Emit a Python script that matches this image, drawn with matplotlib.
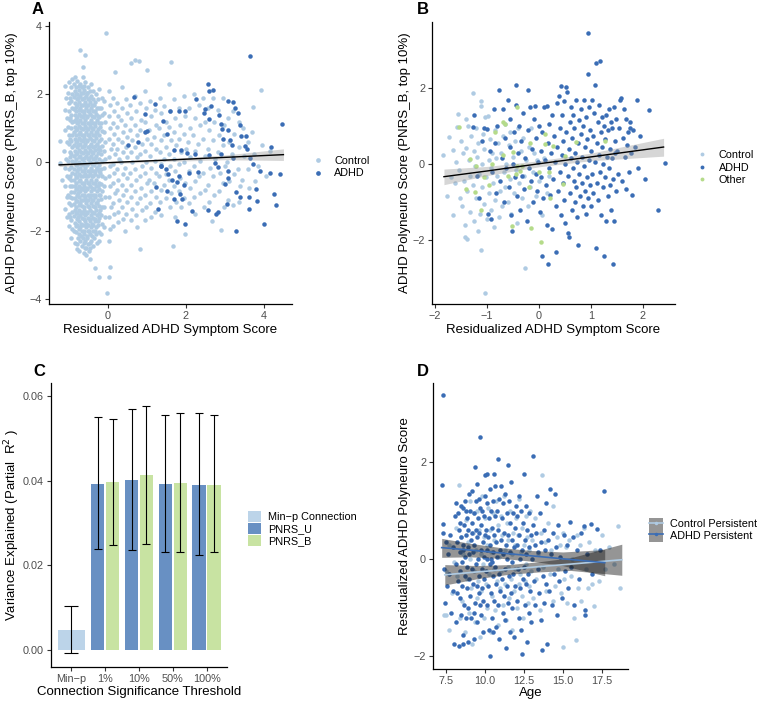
import numpy as np
import matplotlib
matplotlib.use("Agg")
import matplotlib.pyplot as plt
from matplotlib.lines import Line2D
from matplotlib.patches import Patch

plt.rcParams['font.family'] = ['Liberation Sans', 'DejaVu Sans']

# colours
c_light = '#AFCBE3'
c_dark = '#3A6DB5'
c_green = '#B5DB8A'
tick_col = '#4D4D4D'

# ---------------- panel A data ----------------
a_ctrl = [
    # dense core
    (-1.10, 2.25), (-1.07, 1.9), (-1.11, 1.55), (-1.06, 1.3), (-1.09, 0.95), (-1.05, 0.6), (-1.12, 0.35),
    (-1.07, 0.1), (-1.1, -0.15), (-1.05, -0.4), (-1.09, -0.7), (-1.06, -1.0), (-1.11, -1.35), (-1.04, -1.6),
    (-1.0, 2.35), (-1.02, 2.05), (-0.99, 1.75), (-1.01, 1.5), (-0.98, 1.25), (-1.02, 1.05), (-0.99, 0.8),
    (-1.01, 0.55), (-0.98, 0.3), (-1.02, 0.05), (-0.99, -0.2), (-1.01, -0.45), (-0.98, -0.7), (-1.02, -0.95),
    (-1.0, -1.2), (-0.99, -1.5), (-1.01, -1.85),
    (-0.93, 2.45), (-0.95, 2.2), (-0.92, 2.0), (-0.94, 1.8), (-0.91, 1.6), (-0.95, 1.4), (-0.92, 1.2),
    (-0.94, 1.0), (-0.91, 0.8), (-0.95, 0.62), (-0.92, 0.45), (-0.94, 0.25), (-0.91, 0.05), (-0.95, -0.12),
    (-0.92, -0.3), (-0.94, -0.5), (-0.91, -0.68), (-0.95, -0.88), (-0.92, -1.05), (-0.94, -1.25),
    (-0.91, -1.45), (-0.95, -1.7), (-0.92, -1.95), (-0.94, -2.2),
    (-0.85, 2.5), (-0.88, 2.3), (-0.85, 2.1), (-0.88, 1.92), (-0.85, 1.75), (-0.88, 1.57), (-0.85, 1.4),
    (-0.88, 1.22), (-0.85, 1.05), (-0.88, 0.88), (-0.85, 0.7), (-0.88, 0.52), (-0.85, 0.35), (-0.88, 0.18),
    (-0.85, 0.0), (-0.88, -0.18), (-0.85, -0.35), (-0.88, -0.52), (-0.85, -0.7), (-0.88, -0.88),
    (-0.85, -1.05), (-0.88, -1.22), (-0.85, -1.4), (-0.88, -1.58), (-0.85, -1.78), (-0.88, -2.0), (-0.85, -2.35),
    (-0.79, 2.4), (-0.81, 2.2), (-0.78, 2.02), (-0.8, 1.85), (-0.78, 1.68), (-0.81, 1.5), (-0.79, 1.33),
    (-0.8, 1.15), (-0.78, 0.98), (-0.81, 0.8), (-0.79, 0.62), (-0.8, 0.45), (-0.78, 0.28), (-0.81, 0.1),
    (-0.79, -0.08), (-0.8, -0.25), (-0.78, -0.42), (-0.81, -0.6), (-0.79, -0.78), (-0.8, -0.95),
    (-0.78, -1.12), (-0.81, -1.3), (-0.79, -1.48), (-0.8, -1.65), (-0.78, -1.83), (-0.81, -2.05),
    (-0.79, -2.4), (-0.8, -2.55),
    (-0.72, 2.3), (-0.74, 2.12), (-0.71, 1.95), (-0.73, 1.78), (-0.71, 1.6), (-0.74, 1.42), (-0.72, 1.25),
    (-0.73, 1.08), (-0.71, 0.9), (-0.74, 0.72), (-0.72, 0.55), (-0.73, 0.38), (-0.71, 0.2), (-0.74, 0.02),
    (-0.72, -0.15), (-0.73, -0.33), (-0.71, -0.5), (-0.74, -0.68), (-0.72, -0.85), (-0.73, -1.02),
    (-0.71, -1.2), (-0.74, -1.38), (-0.72, -1.55), (-0.73, -1.72), (-0.71, -1.9), (-0.74, -2.1),
    (-0.72, -2.3), (-0.73, -2.6),
    (-0.65, 2.5), (-0.67, 2.2), (-0.64, 2.03), (-0.66, 1.86), (-0.64, 1.69), (-0.67, 1.51), (-0.65, 1.34),
    (-0.66, 1.16), (-0.64, 0.99), (-0.67, 0.81), (-0.65, 0.63), (-0.66, 0.46), (-0.64, 0.29), (-0.67, 0.11),
    (-0.65, -0.07), (-0.66, -0.24), (-0.64, -0.41), (-0.67, -0.59), (-0.65, -0.77), (-0.66, -0.94),
    (-0.64, -1.11), (-0.67, -1.29), (-0.65, -1.47), (-0.66, -1.64), (-0.64, -1.82), (-0.67, -2.0),
    (-0.65, -2.2), (-0.66, -2.45), (-0.62, -2.65),
    (-0.58, 2.35), (-0.6, 2.13), (-0.57, 1.95), (-0.59, 1.78), (-0.57, 1.6), (-0.6, 1.42), (-0.58, 1.25),
    (-0.59, 1.08), (-0.57, 0.9), (-0.6, 0.72), (-0.58, 0.55), (-0.59, 0.38), (-0.57, 0.2), (-0.6, 0.02),
    (-0.58, -0.15), (-0.59, -0.33), (-0.57, -0.5), (-0.6, -0.68), (-0.58, -0.85), (-0.59, -1.02),
    (-0.57, -1.2), (-0.6, -1.38), (-0.58, -1.55), (-0.59, -1.72), (-0.57, -1.9), (-0.6, -2.1),
    (-0.58, -2.3), (-0.59, -2.5), (-0.56, -2.7),
    (-0.51, 2.2), (-0.53, 2.03), (-0.5, 1.86), (-0.52, 1.69), (-0.5, 1.51), (-0.53, 1.34), (-0.51, 1.16),
    (-0.52, 0.99), (-0.5, 0.81), (-0.53, 0.63), (-0.51, 0.46), (-0.52, 0.29), (-0.5, 0.11), (-0.53, -0.07),
    (-0.51, -0.24), (-0.52, -0.41), (-0.5, -0.59), (-0.53, -0.77), (-0.51, -0.94), (-0.52, -1.11),
    (-0.5, -1.29), (-0.53, -1.47), (-0.51, -1.64), (-0.52, -1.82), (-0.5, -2.0), (-0.53, -2.2),
    (-0.51, -2.4), (-0.49, -2.6),
    (-0.44, 2.3), (-0.46, 2.1), (-0.43, 1.95), (-0.45, 1.78), (-0.43, 1.6), (-0.46, 1.42), (-0.44, 1.25),
    (-0.45, 1.08), (-0.43, 0.9), (-0.46, 0.72), (-0.44, 0.55), (-0.45, 0.38), (-0.43, 0.2), (-0.46, 0.02),
    (-0.44, -0.15), (-0.45, -0.33), (-0.43, -0.5), (-0.46, -0.68), (-0.44, -0.85), (-0.45, -1.02),
    (-0.43, -1.2), (-0.46, -1.38), (-0.44, -1.55), (-0.45, -1.72), (-0.43, -1.9), (-0.46, -2.1),
    (-0.44, -2.3), (-0.45, -2.5),
    (-0.37, 2.1), (-0.39, 1.86), (-0.36, 1.69), (-0.38, 1.51), (-0.36, 1.34), (-0.39, 1.16), (-0.37, 0.99),
    (-0.38, 0.81), (-0.36, 0.63), (-0.39, 0.46), (-0.37, 0.29), (-0.38, 0.11), (-0.36, -0.07), (-0.39, -0.24),
    (-0.37, -0.41), (-0.38, -0.59), (-0.36, -0.77), (-0.39, -0.94), (-0.37, -1.11), (-0.38, -1.29),
    (-0.36, -1.47), (-0.39, -1.64), (-0.37, -1.82), (-0.38, -2.0), (-0.36, -2.2), (-0.39, -2.45),
    (-0.30, 2.0), (-0.32, 1.78), (-0.29, 1.6), (-0.31, 1.42), (-0.29, 1.25), (-0.32, 1.08), (-0.3, 0.9),
    (-0.31, 0.72), (-0.29, 0.55), (-0.32, 0.38), (-0.3, 0.2), (-0.31, 0.02), (-0.29, -0.15), (-0.32, -0.33),
    (-0.3, -0.5), (-0.31, -0.68), (-0.29, -0.85), (-0.32, -1.02), (-0.3, -1.2), (-0.31, -1.38),
    (-0.29, -1.55), (-0.32, -1.72), (-0.3, -1.9), (-0.31, -2.1), (-0.29, -2.35),
    (-0.23, 2.15), (-0.25, 1.86), (-0.22, 1.6), (-0.24, 1.34), (-0.22, 1.16), (-0.25, 0.99), (-0.23, 0.81),
    (-0.24, 0.63), (-0.22, 0.46), (-0.25, 0.29), (-0.23, 0.11), (-0.24, -0.07), (-0.22, -0.24),
    (-0.25, -0.41), (-0.23, -0.59), (-0.24, -0.77), (-0.22, -0.94), (-0.25, -1.11), (-0.23, -1.29),
    (-0.24, -1.47), (-0.22, -1.64), (-0.25, -1.82), (-0.23, -2.05), (-0.24, -2.3),
    (-0.16, 1.9), (-0.18, 1.6), (-0.15, 1.38), (-0.17, 1.15), (-0.15, 0.92), (-0.18, 0.7), (-0.16, 0.48),
    (-0.17, 0.26), (-0.15, 0.05), (-0.18, -0.18), (-0.16, -0.4), (-0.17, -0.62), (-0.15, -0.85),
    (-0.18, -1.08), (-0.16, -1.3), (-0.17, -1.55), (-0.15, -1.8), (-0.18, -2.1),
    (-0.09, 1.8), (-0.1, 1.45), (-0.08, 1.2), (-0.1, 0.9), (-0.08, 0.6), (-0.1, 0.35), (-0.08, 0.1),
    (-0.1, -0.15), (-0.08, -0.45), (-0.1, -0.7), (-0.08, -1.0), (-0.1, -1.3), (-0.08, -1.6), (-0.1, -1.9),
    # in-between points of the densest part
    (-0.96, 1.9), (-0.97, 1.3), (-0.96, 0.7), (-0.97, 0.15), (-0.96, -0.4), (-0.97, -1.0), (-0.96, -1.6),
    (-0.82, 2.0), (-0.83, 1.62), (-0.82, 1.28), (-0.83, 0.94), (-0.82, 0.6), (-0.83, 0.26), (-0.82, -0.08),
    (-0.83, -0.43), (-0.82, -0.78), (-0.83, -1.13), (-0.82, -1.48), (-0.83, -1.85),
    (-0.75, 2.25), (-0.76, 1.9), (-0.75, 1.55), (-0.76, 1.2), (-0.75, 0.85), (-0.76, 0.5), (-0.75, 0.15),
    (-0.76, -0.2), (-0.75, -0.55), (-0.76, -0.9), (-0.75, -1.25), (-0.76, -1.6), (-0.75, -1.95), (-0.76, -2.2),
    (-0.68, 2.05), (-0.69, 1.7), (-0.68, 1.36), (-0.69, 1.0), (-0.68, 0.66), (-0.69, 0.3), (-0.68, -0.04),
    (-0.69, -0.4), (-0.68, -0.75), (-0.69, -1.1), (-0.68, -1.45), (-0.69, -1.8), (-0.68, -2.15),
    (-0.61, 2.25), (-0.62, 1.88), (-0.61, 1.52), (-0.62, 1.17), (-0.61, 0.82), (-0.62, 0.47), (-0.61, 0.12),
    (-0.62, -0.24), (-0.61, -0.6), (-0.62, -0.95), (-0.61, -1.3), (-0.62, -1.65), (-0.61, -2.0), (-0.62, -2.35),
    (-0.54, 2.05), (-0.55, 1.7), (-0.54, 1.36), (-0.55, 1.0), (-0.54, 0.66), (-0.55, 0.3), (-0.54, -0.04),
    (-0.55, -0.4), (-0.54, -0.75), (-0.55, -1.1), (-0.54, -1.45), (-0.55, -1.8), (-0.54, -2.15), (-0.55, -2.5),
    (-0.47, 1.9), (-0.48, 1.52), (-0.47, 1.17), (-0.48, 0.82), (-0.47, 0.47), (-0.48, 0.12), (-0.47, -0.24),
    (-0.48, -0.6), (-0.47, -0.95), (-0.48, -1.3), (-0.47, -1.65), (-0.48, -2.0), (-0.47, -2.35),
    (-0.40, 1.7), (-0.41, 1.36), (-0.4, 1.0), (-0.41, 0.66), (-0.4, 0.3), (-0.41, -0.04), (-0.4, -0.4),
    (-0.41, -0.75), (-0.4, -1.1), (-0.41, -1.45), (-0.4, -1.8), (-0.41, -2.15),
    (-0.33, 1.52), (-0.34, 1.17), (-0.33, 0.82), (-0.34, 0.47), (-0.33, 0.12), (-0.34, -0.24),
    (-0.33, -0.6), (-0.34, -0.95), (-0.33, -1.3), (-0.34, -1.65), (-0.33, -2.0),
    (-0.26, 1.36), (-0.27, 0.9), (-0.26, 0.4), (-0.27, -0.15), (-0.26, -0.68), (-0.27, -1.2), (-0.26, -1.72),
    (-0.19, 1.05), (-0.2, 0.38), (-0.19, -0.3), (-0.2, -0.95), (-0.19, -1.4),
    # outliers
    (-0.04, 3.80), (-0.71, 3.31), (-0.59, 3.15), (-0.63, 2.79), (0.69, 3.0), (0.80, 2.98), (0.58, 2.92),
    (1.0, 2.71), (1.63, 2.96), (0.17, 2.66), (3.93, 2.12), (3.73, 1.63), (-0.03, -3.84), (-0.33, -3.1),
    (-0.23, -3.35), (0.06, -3.07), (0.04, -3.35), (-0.47, -2.83), (0.82, -2.55), (1.67, -2.45),
    (1.98, -2.09), (2.91, -1.97), (2.68, -1.72), (-1.22, -0.02), (-1.22, 0.64), (-1.18, -0.5),
    # tail
    (0.02, 2.1), (0.05, 1.7), (0.03, 1.35), (0.06, 1.0), (0.02, 0.7), (0.07, 0.4), (0.03, 0.15), (0.06, -0.1),
    (0.02, -0.4), (0.05, -0.7), (0.03, -1.0), (0.07, -1.3), (0.02, -1.6), (0.05, -1.95), (0.04, -2.3),
    (0.13, 1.9), (0.15, 1.5), (0.12, 1.15), (0.16, 0.85), (0.13, 0.55), (0.17, 0.25), (0.12, -0.05),
    (0.16, -0.3), (0.13, -0.6), (0.17, -0.9), (0.12, -1.2), (0.15, -1.5), (0.14, -1.85),
    (0.24, 1.75), (0.26, 1.35), (0.23, 1.05), (0.27, 0.7), (0.24, 0.4), (0.28, 0.1), (0.23, -0.2),
    (0.27, -0.5), (0.24, -0.8), (0.28, -1.1), (0.25, -1.45), (0.27, -1.75),
    (0.35, 2.2), (0.37, 1.6), (0.34, 1.25), (0.38, 0.9), (0.35, 0.6), (0.39, 0.3), (0.34, 0.0),
    (0.38, -0.35), (0.35, -0.65), (0.39, -0.95), (0.36, -1.3), (0.38, -1.65),
    (0.46, 1.85), (0.48, 1.45), (0.45, 1.1), (0.49, 0.75), (0.46, 0.45), (0.5, 0.15), (0.45, -0.15),
    (0.49, -0.45), (0.46, -0.8), (0.5, -1.15), (0.47, -1.5), (0.44, -2.0),
    (0.57, 1.7), (0.6, 1.3), (0.56, 0.95), (0.61, 0.65), (0.58, 0.3), (0.62, 0.0), (0.57, -0.3),
    (0.6, -0.65), (0.58, -1.0), (0.62, -1.35), (0.59, -1.7),
    (0.7, 1.95), (0.73, 1.5), (0.69, 1.1), (0.74, 0.8), (0.7, 0.45), (0.74, 0.15), (0.69, -0.2),
    (0.73, -0.5), (0.7, -0.85), (0.74, -1.2), (0.71, -1.55), (0.75, -1.9),
    (0.83, 1.75), (0.86, 1.25), (0.82, 0.95), (0.87, 0.55), (0.83, 0.25), (0.87, -0.1), (0.82, -0.4),
    (0.86, -0.75), (0.83, -1.05), (0.87, -1.4),
    (0.95, 2.1), (0.98, 1.6), (0.94, 1.2), (0.99, 0.7), (0.95, 0.35), (0.98, 0.0), (0.94, -0.3),
    (0.99, -0.6), (0.95, -0.95), (0.98, -1.3), (0.96, -1.7),
    (1.07, 1.8), (1.1, 1.35), (1.06, 0.95), (1.11, 0.55), (1.07, 0.2), (1.1, -0.15), (1.06, -0.5),
    (1.11, -0.85), (1.08, -1.2), (1.1, -1.6),
    (1.2, 1.55), (1.23, 1.1), (1.19, 0.75), (1.24, 0.4), (1.2, 0.05), (1.23, -0.3), (1.19, -0.6),
    (1.24, -1.0), (1.21, -1.45),
    (1.33, 1.9), (1.36, 1.45), (1.32, 1.0), (1.37, 0.65), (1.33, 0.3), (1.36, -0.05), (1.32, -0.4),
    (1.37, -0.8), (1.34, -1.15), (1.36, -1.55),
    (1.45, 1.65), (1.48, 1.2), (1.44, 0.8), (1.49, 0.45), (1.45, 0.1), (1.48, -0.35), (1.44, -0.65),
    (1.49, -1.05),
    (1.57, 2.3), (1.6, 1.5), (1.56, 1.05), (1.61, 0.65), (1.57, 0.25), (1.6, -0.1), (1.56, -0.5),
    (1.61, -0.9), (1.58, -1.3),
    (1.7, 1.85), (1.73, 1.3), (1.69, 0.9), (1.74, 0.5), (1.7, 0.1), (1.73, -0.25), (1.69, -0.7),
    (1.74, -1.15), (1.71, -1.6),
    (1.83, 1.6), (1.86, 1.1), (1.82, 0.7), (1.87, 0.3), (1.83, -0.05), (1.86, -0.45), (1.82, -0.85),
    (1.87, -1.3),
    (1.95, 1.95), (1.98, 1.35), (1.94, 0.85), (1.99, 0.4), (1.95, 0.0), (1.98, -0.6), (1.96, -1.05),
    (2.07, 1.6), (2.1, 1.0), (2.06, 0.6), (2.11, 0.15), (2.07, -0.25), (2.1, -0.75), (2.08, -1.2),
    (2.2, 2.0), (2.23, 1.3), (2.19, 0.8), (2.24, 0.35), (2.2, -0.1), (2.23, -0.55), (2.21, -1.0),
    (2.24, -1.5),
    (2.33, 1.7), (2.36, 1.1), (2.32, 0.55), (2.37, 0.05), (2.33, -0.4), (2.36, -0.9),
    (2.45, 1.9), (2.48, 1.2), (2.44, 0.7), (2.49, 0.2), (2.45, -0.3), (2.48, -0.8), (2.46, -1.3),
    (2.57, 1.6), (2.6, 0.95), (2.56, 0.4), (2.61, -0.15), (2.57, -0.65), (2.6, -1.15),
    (2.7, 1.9), (2.73, 1.2), (2.69, 0.65), (2.74, 0.1), (2.7, -0.4), (2.73, -0.95),
    (2.83, 1.55), (2.86, 0.8), (2.82, 0.3), (2.87, -0.3), (2.85, -0.85),
    (2.95, 1.9), (2.98, 1.1), (2.94, 0.5), (2.99, -0.1), (2.96, -0.6), (2.97, -1.3),
    (3.07, 1.3), (3.1, 0.6), (3.06, 0.0), (3.11, -0.55), (3.08, -1.1),
    (3.2, 1.5), (3.23, 0.85), (3.19, 0.25), (3.24, -0.35), (3.21, -1.25),
    (3.35, 1.2), (3.37, 0.45), (3.33, -0.2), (3.38, -0.7), (3.36, -1.15),
    (3.46, 1.0), (3.48, 0.2), (3.45, -0.5),
    (3.58, 0.6), (3.6, -0.2), (3.62, -0.75), (3.7, 0.9), (3.75, 0.25), (3.78, -0.55), (3.85, -0.1),
    (3.95, 0.5), (4.05, -0.4), (4.15, 0.35),
]
a_adhd = [
    (0.67, 1.93), (0.96, 1.41), (0.95, 0.89), (1.01, 0.92), (0.52, 0.52), (0.76, 0.59), (1.22, 1.72),
    (1.40, 1.21), (1.51, 0.83), (1.59, 1.51), (1.82, 1.51), (1.97, 1.51), (2.27, 1.85), (2.46, 1.44),
    (2.49, 1.56), (2.57, 2.29), (2.70, 2.14), (2.60, 2.10), (2.64, 1.67), (2.60, 1.28), (2.85, 1.38),
    (2.90, 1.14), (3.07, 1.80), (3.20, 1.78), (3.26, 1.61), (3.33, 1.46), (3.39, 1.11), (3.65, 3.13),
    (2.92, 0.97), (3.07, 0.94), (2.94, 0.69), (3.13, 0.67), (3.19, 0.51), (3.42, 0.77), (3.55, 0.77),
    (3.52, 0.47), (3.57, 0.40), (4.18, 0.44), (4.46, 1.14), (4.16, -0.30), (4.40, -0.34), (3.89, -0.24),
    (3.09, -0.24), (2.89, 0.26), (3.22, 0.13), (2.83, -0.12), (2.74, -0.02), (2.58, 0.23), (2.24, 0.25),
    (2.02, 0.28), (1.87, 0.37), (1.70, 0.37), (2.08, -0.32), (2.31, -0.27), (1.83, -0.39), (1.65, -0.51),
    (1.76, -0.56), (1.37, -0.10), (1.48, -0.20), (1.53, -0.34), (1.24, -0.71), (1.94, -0.65),
    (1.85, -0.93), (1.91, -1.07), (1.69, -1.08), (1.29, -1.35), (2.15, -1.42), (2.57, -1.40),
    (2.77, -1.50), (2.82, -1.46), (1.77, -1.72), (1.98, -1.79), (3.28, -2.01), (4.01, -1.81),
    (3.61, -1.37), (3.39, -1.00), (3.28, -0.86), (3.01, -0.64), (3.07, -0.46), (3.06, -1.22),
    (3.61, -1.00), (3.82, -1.12), (4.25, -0.91), (4.30, -1.25), (3.80, -0.78), (3.64, 0.13),
    (3.71, -0.04), (1.52, -0.83), (1.35, -0.09),
]
# regression line + ci
a_fit_x = [-1.25, 0.0, 1.5, 3.0, 4.5]
a_fit_y = [-0.07, -0.005, 0.07, 0.15, 0.23]
a_fit_hi = [-0.02, 0.025, 0.11, 0.22, 0.40]
a_fit_lo = [-0.12, -0.035, 0.03, 0.08, 0.06]

# ---------------- panel B data ----------------
b_ctrl = [
    (-1.84, 0.25), (-1.78, -0.84), (-1.73, 0.71), (-1.7, -0.35), (-1.66, 0.38), (-1.65, -1.34), (-1.62, -0.5),
    (-1.6, 0.05), (-1.57, 0.98), (-1.55, 1.32), (-1.54, -0.15), (-1.52, -0.88), (-1.5, 0.6), (-1.48, -1.1),
    (-1.47, 0.3), (-1.45, -0.45), (-1.43, -1.6), (-1.42, -1.93), (-1.41, 1.18), (-1.4, 0.42), (-1.39, -1.98),
    (-1.38, -0.7), (-1.36, 1.0), (-1.35, 0.1), (-1.33, -0.3), (-1.32, -1.25), (-1.3, 0.75), (-1.28, 1.86),
    (-1.27, -0.55), (-1.26, 0.35), (-1.25, -1.5), (-1.24, -0.05), (-1.22, 0.95), (-1.21, -0.9), (-1.2, 0.2),
    (-1.18, -1.75), (-1.17, 0.55), (-1.15, -0.25), (-1.13, -1.3), (-1.12, 1.65), (-1.12, 1.54),
    (-1.12, -2.27), (-1.1, 0.0), (-1.09, -0.6), (-1.08, 0.8), (-1.06, -1.05), (-1.05, 0.4), (-1.04, -3.38),
    (-1.03, 1.25), (-1.02, -0.35), (-1.0, -1.45), (-0.98, 1.27), (-0.97, 0.1), (-0.96, -0.75), (-0.95, 0.65),
    (-0.93, -1.2), (-0.92, -0.1), (-0.9, 0.3), (-0.88, -0.5), (-0.87, -1.65), (-0.85, 0.9), (-0.84, -0.95),
    (-0.82, 0.15), (-0.8, -0.3), (-0.78, 0.55), (-0.77, -1.4), (-0.75, -0.7), (-0.73, 0.3), (-0.72, -1.1),
    (-0.7, 0.75), (-0.68, -0.2), (-0.66, -0.6), (-0.65, 1.05), (-0.63, 0.0), (-0.6, -1.0), (-0.58, 0.5),
    (-0.56, -0.4), (-0.55, 0.85), (-0.53, -1.3), (-0.5, 0.2), (-0.48, -0.75), (-0.46, 0.6), (-0.44, -0.15),
    (-0.42, -1.55), (-0.4, 0.95), (-0.38, -0.5), (-0.35, 0.35), (-0.33, -0.9), (-0.3, 0.7), (-0.28, -0.3),
    (-0.27, -2.72), (-0.25, 0.1), (-0.22, -1.1), (-0.2, 0.45), (-0.18, -0.6), (-0.15, 0.95), (-0.12, -0.2),
    (-0.1, 0.3), (-0.06, -0.85), (-0.03, 0.1), (0.0, -0.45), (0.05, -1.35), (0.1, 0.15), (0.15, -0.75),
    (0.2, -0.3),
]
b_adhd = [
    (-1.27, 0.98), (-1.25, 1.3), (-1.2, -0.3), (-1.15, -0.9), (-1.1, 0.6), (-1.05, 0.94), (-1.0, 0.93),
    (-0.98, -1.3), (-0.95, 0.35), (-0.92, -1.45), (-0.9, -0.2), (-0.87, 1.45), (-0.85, 0.55), (-0.82, -0.75),
    (-0.8, 1.0), (-0.77, 1.96), (-0.75, -0.45), (-0.72, 0.15), (-0.7, 1.45), (-0.68, -1.0), (-0.66, 0.7),
    (-0.63, -0.1), (-0.6, 1.7), (-0.58, -0.6), (-0.56, 0.45), (-0.55, 1.2), (-0.53, -1.35), (-0.52, -1.75),
    (-0.5, 0.0), (-0.49, 0.85), (-0.47, -0.35), (-0.45, 1.55), (-0.44, 2.08), (-0.42, -0.85), (-0.4, 0.3),
    (-0.38, 1.0), (-0.36, -1.2), (-0.34, 0.6), (-0.32, -0.3), (-0.3, 1.35), (-0.28, -0.65), (-0.26, 0.15),
    (-0.24, -1.5), (-0.22, 0.9), (-0.21, 1.96), (-0.2, -0.1), (-0.18, 1.5), (-0.16, -0.45), (-0.14, 0.4),
    (-0.12, -1.0), (-0.1, 1.2), (-0.08, 1.52), (-0.06, -0.25), (-0.05, 0.7), (-0.03, -0.7), (-0.02, 0.05),
    (0.0, 1.0), (0.02, -1.25), (0.03, 0.35), (0.04, -0.35), (0.05, -2.43), (0.06, 0.85), (0.08, -0.9),
    (0.1, 1.5), (0.12, 0.1), (0.13, -0.55), (0.15, 1.52), (0.16, -1.6), (0.17, 0.55), (0.18, -2.62),
    (0.19, -0.1), (0.2, 1.05), (0.22, -0.8), (0.23, 0.3), (0.25, -1.7), (0.26, 1.3), (0.27, -0.4),
    (0.28, 0.75), (0.3, 0.05), (0.32, -2.3), (0.33, -1.1), (0.34, 1.6), (0.35, 0.45), (0.36, -0.7),
    (0.38, 1.79), (0.4, -0.2), (0.41, 0.95), (0.42, 2.06), (0.43, -1.35), (0.44, 0.25), (0.45, 1.3),
    (0.46, -0.5), (0.47, 0.6), (0.48, -0.95), (0.49, 1.65), (0.5, 0.0), (0.51, -1.55), (0.52, 0.85),
    (0.53, 2.03), (0.54, 1.89), (0.55, -1.8), (0.56, -0.3), (0.57, 0.4), (0.58, -1.92), (0.59, 1.1),
    (0.6, -0.75), (0.61, 0.15), (0.62, 1.5), (0.63, -1.2), (0.64, 0.7), (0.65, -0.1), (0.66, 1.3),
    (0.67, -0.45), (0.68, 0.95), (0.69, -1.0), (0.7, 0.3), (0.71, 1.7), (0.72, -0.6), (0.73, 0.05),
    (0.74, -1.4), (0.75, -2.12), (0.76, 0.55), (0.77, 1.15), (0.78, -0.25), (0.79, -0.85), (0.8, 0.8),
    (0.81, 1.45), (0.82, -0.5), (0.83, 0.2), (0.84, -1.1), (0.85, 1.0), (0.86, -0.05), (0.87, 1.7),
    (0.88, -0.7), (0.89, 0.45), (0.9, -1.3), (0.91, 1.25), (0.92, -0.35), (0.93, 0.65), (0.94, -0.9),
    (0.95, 2.36), (0.95, 3.44), (0.96, 0.1), (0.97, 1.5), (0.98, -0.55), (0.99, 0.9),
    (1.0, -1.1), (1.01, 0.35), (1.02, 1.7), (1.03, -0.25), (1.04, 0.75), (1.05, -0.75), (1.06, 1.35),
    (1.07, 2.07), (1.08, 0.05), (1.09, 2.65), (1.1, -2.2), (1.11, 0.55), (1.12, -0.5), (1.13, 1.1),
    (1.14, -0.95), (1.15, 0.25), (1.16, 1.55), (1.17, 2.71), (1.18, -0.2), (1.19, 0.85), (1.2, -1.35),
    (1.21, 0.45), (1.22, 1.25), (1.23, -0.6), (1.24, 0.0), (1.25, -2.43), (1.26, 1.0), (1.27, -0.35),
    (1.28, 0.65), (1.29, -1.5), (1.3, 1.3), (1.31, 0.2), (1.32, -0.85), (1.33, 0.9), (1.34, -0.1),
    (1.35, 1.45), (1.36, -0.55), (1.37, 0.4), (1.38, -1.2), (1.39, 1.1), (1.4, 0.15), (1.41, 0.95),
    (1.42, -2.63), (1.43, -0.4), (1.44, 1.5), (1.45, -1.5), (1.46, 0.6), (1.47, 0.3), (1.48, -0.7),
    (1.49, 1.2), (1.5, 0.35), (1.52, -0.25), (1.55, 0.95), (1.57, 1.7), (1.58, 1.75), (1.6, -0.45),
    (1.62, 0.7), (1.64, 1.45), (1.65, 0.2), (1.67, -0.65), (1.68, 1.2), (1.7, 0.5), (1.72, 0.85),
    (1.73, -0.2), (1.75, 1.1), (1.76, 0.95), (1.78, 0.3), (1.8, -0.8), (1.82, 0.9), (1.85, 0.45),
    (1.88, 1.7), (1.9, -0.1), (1.95, 0.75), (2.05, -0.4), (2.12, 1.43), (2.3, -1.2), (2.42, 0.03),
]
b_other = [
    (-1.54, 0.97), (-1.32, 0.13), (-1.21, -0.06), (-1.23, -0.72), (-1.12, -1.21), (-1.4, -0.65),
    (-1.05, -0.35), (-0.97, -0.55), (-0.69, 1.1), (-0.66, 1.05), (-0.84, 0.84), (-0.7, 0.25), (-0.6, -0.3),
    (-0.5, 0.33), (-0.42, 1.51), (-0.52, -1.63), (-0.45, -0.25), (-0.42, -0.06), (-0.37, -0.17),
    (-0.33, -0.05), (-0.2, -0.6), (-0.15, -1.67), (-0.18, 0.55), (0.03, -2.06), (0.11, 0.53), (0.11, 0.78),
    (0.27, 0.49), (0.01, -0.21), (0.19, -0.2), (0.21, -0.88), (0.46, -0.53), (0.5, 0.22), (0.72, 0.59),
    (1.28, 0.62), (-0.9, 0.0),
]
b_fit_x = [-1.83, -1.0, 0.0, 1.0, 2.4]
b_fit_y = [-0.33, -0.18, 0.01, 0.19, 0.45]
b_fit_hi = [-0.13, -0.06, 0.09, 0.29, 0.68]
b_fit_lo = [-0.54, -0.30, -0.07, 0.09, 0.21]

# ---------------- panel C data ----------------
c_cats = ['Min\u2212p', '1%', '10%', '50%', '100%']
minp_val, minp_lo, minp_hi = 0.0048, -0.0008, 0.0105
u_val = [0.0393, 0.0401, 0.0392, 0.0391]
u_lo = [0.0238, 0.0236, 0.0231, 0.0225]
u_hi = [0.0550, 0.0569, 0.0555, 0.0559]
pb_val = [0.0396, 0.0413, 0.0394, 0.0391]
pb_lo = [0.0249, 0.0251, 0.0231, 0.0231]
pb_hi = [0.0545, 0.0577, 0.0560, 0.0555]

# ---------------- panel D data ----------------
d_ctrl = [
    (7.35, -1.14), (7.46, -1.14), (7.5, -0.25), (7.65, -1.46), (7.7, 0.3), (7.85, -0.7), (8.0, -0.05),
    (8.1, 0.65), (8.2, -0.35), (8.3, 1.52), (8.35, -1.2), (8.45, 0.45), (8.5, -0.85), (8.6, 0.1),
    (8.7, -1.5), (8.75, 0.8), (8.8, -0.4), (8.9, 0.35), (8.95, -1.1), (9.0, 1.2), (9.05, 0.0), (9.1, -0.6),
    (9.15, -1.75), (9.2, 0.55), (9.25, -0.25), (9.3, 0.95), (9.35, -1.3), (9.4, 0.2), (9.45, -0.8),
    (9.5, 1.0), (9.55, -0.45), (9.6, 0.6), (9.65, -1.6), (9.7, 0.1), (9.75, -0.65), (9.8, 1.3),
    (9.85, -0.1), (9.9, 0.45), (9.95, -1.2), (10.0, 0.85), (10.05, -0.5), (10.1, 0.3), (10.15, -1.0),
    (10.2, 1.05), (10.25, -0.3), (10.3, 0.6), (10.35, -1.5), (10.4, 0.15), (10.45, -0.75), (10.5, 0.95),
    (10.55, -0.2), (10.6, 0.4), (10.65, -1.05), (10.7, 1.2), (10.75, -0.45), (10.8, 0.7), (10.85, -1.35),
    (10.9, 0.05), (10.95, -0.6), (11.0, 0.9), (11.05, -0.25), (11.1, 0.5), (11.15, -0.95), (11.2, 1.3),
    (11.25, -0.5), (11.3, 0.2), (11.35, -1.25), (11.4, 0.75), (11.45, -0.15), (11.5, 0.4), (11.55, -0.8),
    (11.6, 1.0), (11.65, -0.4), (11.7, 0.1), (11.75, -1.45), (11.8, 0.55), (11.85, -0.65), (11.9, 0.3),
    (11.95, -0.2), (12.0, 0.85), (12.05, -1.0), (12.1, 0.5), (12.15, -0.5), (12.2, 1.25), (12.25, -0.3),
    (12.3, 0.15), (12.35, -0.75), (12.4, 0.65), (12.45, -1.2), (12.5, 0.3), (12.55, -0.45), (12.6, 0.9),
    (12.65, -0.1), (12.7, 0.45), (12.75, -0.9), (12.8, 0.2), (12.85, -0.55), (12.9, 1.0), (12.95, -0.25),
    (13.0, 0.4), (13.1, -0.8), (13.2, 0.85), (13.3, -0.4), (13.4, 0.1), (13.5, -1.05), (13.6, 0.55),
    (13.69, 1.74), (13.75, -0.15), (13.85, 0.35), (13.95, -0.65), (14.05, 0.75), (14.15, -0.3),
    (14.25, 0.2), (14.35, -0.85), (14.4, 1.1), (14.5, -0.55), (14.6, 0.45), (14.7, -0.2), (14.8, 0.3),
    (14.9, -0.7), (15.0, 0.55), (15.03, -1.81), (15.1, -0.4), (15.2, 0.25), (15.3, -0.9), (15.4, 0.4),
    (15.5, -0.35), (15.6, 0.0), (15.7, -1.2), (15.84, -1.66), (15.9, 0.5), (16.0, -0.6), (16.1, 0.3),
    (16.2, -0.85), (16.35, 0.65), (16.5, -0.2), (16.6, -0.6), (16.7, 0.35), (16.85, -0.5), (16.98, -0.96),
    (17.1, 0.2), (17.3, -0.45), (17.5, 0.5), (17.7, -0.2), (18.0, 0.25), (18.3, -0.1), (18.58, 0.68),
    (18.69, -0.6),
]
d_adhd = [
    (7.28, 3.38), (7.24, 1.52), (7.3, 0.72), (7.3, 0.55), (7.35, -0.2), (7.4, -0.91), (7.45, 0.35),
    (7.55, -0.55), (7.6, 0.1), (7.7, -0.3), (7.75, 0.5), (7.8, -1.1), (7.9, 0.25), (7.95, -0.65),
    (7.99, -1.75), (8.05, 0.9), (8.1, -0.1), (8.1, -1.3), (8.15, 1.15), (8.2, 0.35), (8.22, -0.45),
    (8.25, 0.95), (8.3, -1.79), (8.3, 0.6), (8.35, -0.25), (8.38, 0.15), (8.4, -0.8), (8.42, 1.1),
    (8.45, 0.45), (8.5, -0.05), (8.5, -0.55), (8.55, 1.05), (8.58, -1.55), (8.6, 0.3), (8.62, -0.95),
    (8.65, 0.7), (8.68, -0.35), (8.7, 1.2), (8.72, 0.05), (8.75, -1.2), (8.78, 0.5), (8.8, -0.6),
    (8.82, 0.85), (8.85, -0.15), (8.88, 0.25), (8.9, -1.0), (8.92, 0.6), (8.95, 1.35), (8.97, -0.4),
    (8.99, 0.1), (8.6, -1.75), (8.45, -1.15), (8.2, -0.7), (8.35, 0.75), (8.9, -1.7), (8.75, 1.0),
    (8.55, 0.2), (9.02, 1.0), (9.05, -0.75), (9.08, 0.4), (9.1, -1.2), (9.12, 0.75), (9.15, -0.2),
    (9.18, 1.4), (9.2, 0.15), (9.22, -0.5), (9.25, 0.95), (9.28, -1.65), (9.3, 0.3), (9.33, 1.9),
    (9.35, -0.9), (9.38, 0.6), (9.4, -0.1), (9.42, 1.2), (9.45, -0.55), (9.48, 0.45), (9.5, -1.3),
    (9.52, 0.85), (9.55, 0.0), (9.58, 1.25), (9.6, -0.35), (9.62, 0.55), (9.65, -0.95), (9.68, 1.05),
    (9.69, 2.52), (9.7, 0.2), (9.72, -1.15), (9.75, 0.7), (9.78, -0.2), (9.8, 1.0), (9.82, -0.6),
    (9.85, 0.35), (9.88, -1.5), (9.9, 0.9), (9.92, 0.05), (9.95, -0.4), (9.97, 1.74), (9.98, 0.5),
    (9.3, -1.1), (9.45, 1.55), (9.6, -0.7), (9.15, 0.55), (9.85, -0.85),
    (10.02, 1.3), (10.05, -0.25), (10.08, 0.6), (10.1, -0.95), (10.12, 0.2), (10.15, 1.15), (10.18, -0.55),
    (10.2, 0.45), (10.22, -1.45), (10.25, 0.85), (10.28, -0.1), (10.3, -2.0), (10.3, 1.45), (10.33, 0.3),
    (10.35, -0.7), (10.38, 1.0), (10.4, 0.0), (10.42, -1.2), (10.45, 0.65), (10.48, -0.35), (10.5, 1.2),
    (10.52, 0.15), (10.55, -0.85), (10.58, 0.5), (10.6, 1.75), (10.62, -0.15), (10.65, 0.9),
    (10.68, -1.4), (10.7, 0.35), (10.72, -0.5), (10.75, 1.0), (10.78, 0.05), (10.8, -0.95), (10.83, 2.07),
    (10.85, 0.6), (10.88, -0.3), (10.9, 1.25), (10.92, -1.65), (10.95, 0.2), (10.98, -0.65), (10.5, -1.5),
    (10.15, 1.75), (10.65, 1.5), (10.1, 0.0), (10.45, -0.05),
    (11.02, 1.5), (11.05, 0.4), (11.08, -0.4), (11.1, 0.85), (11.12, -1.1), (11.15, 0.1), (11.18, 1.15),
    (11.2, -0.75), (11.22, 0.55), (11.25, -0.2), (11.28, 1.35), (11.3, -1.25), (11.33, -1.82),
    (11.35, 0.3), (11.38, -0.55), (11.4, 0.95), (11.42, 0.0), (11.45, -0.9), (11.48, 1.95), (11.5, 0.5),
    (11.52, -0.35), (11.55, 1.2), (11.58, -1.5), (11.6, 0.15), (11.62, 0.75), (11.65, -0.7), (11.68, 1.6),
    (11.7, -0.05), (11.72, 0.4), (11.75, -1.0), (11.78, 0.95), (11.8, -0.3), (11.85, 0.25), (11.88, -1.6),
    (11.9, 0.65), (11.95, -0.55), (11.98, 1.1),
    (12.02, 0.3), (12.05, -0.85), (12.08, 0.9), (12.1, -0.2), (12.15, 1.3), (12.18, -1.2), (12.2, 0.5),
    (12.22, 0.0), (12.25, -0.6), (12.3, 1.0), (12.33, -1.45), (12.35, 0.2), (12.4, -1.96), (12.42, -0.4),
    (12.45, 0.75), (12.5, 1.75), (12.52, -0.15), (12.55, 0.4), (12.58, -0.95), (12.6, 1.1), (12.62, -0.5),
    (12.65, 0.1), (12.7, -1.7), (12.72, 0.6), (12.75, -0.3), (12.8, 0.95), (12.82, -1.1), (12.85, 0.25),
    (12.9, -0.65), (12.95, 0.5), (12.98, -1.3),
    (13.02, 0.0), (13.05, 2.12), (13.08, 0.7), (13.12, -0.45), (13.18, 0.3), (13.22, -0.95), (13.28, 0.55),
    (13.32, 1.3), (13.38, -0.2), (13.42, 0.15), (13.48, -0.7), (13.52, 0.95), (13.58, -1.25), (13.62, 0.35),
    (13.67, -1.86), (13.72, -0.35), (13.78, 0.6), (13.82, -0.9), (13.88, 0.2), (13.92, 1.15),
    (13.99, -1.75), (13.95, -0.5),
    (14.05, 0.4), (14.1, -0.65), (14.18, 1.45), (14.25, 0.1), (14.3, -0.95), (14.38, 0.55), (14.45, -0.3),
    (14.5, 1.35), (14.55, 0.25), (14.62, -1.15), (14.7, 0.7), (14.78, -0.45), (14.85, 0.05), (14.92, -0.8),
    (15.05, 0.5), (15.15, -0.25), (15.25, 0.3), (15.35, -0.6), (15.46, 0.76), (15.55, -0.15), (15.65, 0.45),
    (15.75, -0.95), (15.9, 0.2), (16.05, -0.4), (16.2, 0.55), (16.34, 0.68), (16.42, -1.05), (16.42, -1.15),
    (16.55, 0.1), (16.8, 0.72), (16.9, -0.3), (17.18, 0.62), (17.4, 0.2), (17.63, 1.41),
]
d_adhd_fit_x = [7.2, 9.0, 11.0, 13.0, 15.0, 17.7]
d_adhd_fit_y = [0.24, 0.19, 0.13, 0.07, 0.01, -0.07]
d_adhd_hi = [0.43, 0.33, 0.24, 0.18, 0.15, 0.20]
d_adhd_lo = [0.04, 0.05, 0.02, -0.04, -0.13, -0.34]
d_ctrl_fit_x = [7.4, 9.5, 11.5, 13.5, 15.5, 18.8]
d_ctrl_fit_y = [-0.32, -0.26, -0.21, -0.15, -0.10, -0.01]
d_ctrl_hi = [-0.11, -0.13, -0.11, -0.05, 0.03, 0.31]
d_ctrl_lo = [-0.53, -0.40, -0.31, -0.26, -0.23, -0.33]


def xy(pts):
    arr = np.array(pts)
    return arr[:, 0], arr[:, 1]


def style(ax):
    for s in ['top', 'right']:
        ax.spines[s].set_visible(False)
    for s in ['left', 'bottom']:
        ax.spines[s].set_linewidth(0.9)
        ax.spines[s].set_color('black')
    ax.tick_params(length=3, width=0.8, color='#333333', labelsize=7.8, labelcolor=tick_col, pad=2)


fig = plt.figure(figsize=(7.57, 7.03), dpi=100)
W, H = 757.0, 703.0


def add_ax(l, r, t, b):
    return fig.add_axes([l / W, 1 - b / H, (r - l) / W, (b - t) / H])


LAB = 9.5
S = 10.5

# ---- A ----
ax = add_ax(49, 292, 22, 304)
x, y = xy(a_ctrl)
ax.scatter(x, y, s=S, color=c_light, lw=0, zorder=1)
x, y = xy(a_adhd)
ax.scatter(x, y, s=S, color=c_dark, lw=0, zorder=2)
ax.fill_between(a_fit_x, a_fit_lo, a_fit_hi, color='#999999', alpha=0.4, lw=0, zorder=3)
ax.plot(a_fit_x, a_fit_y, color='black', lw=1.0, zorder=4)
ax.set_xlim(-1.51, 4.72)
ax.set_ylim(-4.15, 4.12)
ax.set_xticks([0, 2, 4])
ax.set_yticks([-4, -2, 0, 2, 4])
ax.set_yticklabels(['\u22124', '\u22122', '0', '2', '4'])
style(ax)
ax.set_xlabel('Residualized ADHD Symptom Score', fontsize=LAB, va='center')
ax.set_ylabel('ADHD Polyneuro Score (PNRS_B, top 10%)', fontsize=LAB, va='center')
ax.xaxis.set_label_coords(0.5, -0.092)
ax.yaxis.set_label_coords(-0.152, 0.5)

# ---- B ----
ax = add_ax(432, 675, 22, 304)
x, y = xy(b_ctrl)
ax.scatter(x, y, s=S, color=c_light, lw=0, zorder=1)
x, y = xy(b_adhd)
ax.scatter(x, y, s=S, color=c_dark, lw=0, zorder=2)
x, y = xy(b_other)
ax.scatter(x, y, s=S, color=c_green, lw=0, zorder=2)
ax.fill_between(b_fit_x, b_fit_lo, b_fit_hi, color='#999999', alpha=0.4, lw=0, zorder=3)
ax.plot(b_fit_x, b_fit_y, color='black', lw=1.0, zorder=4)
ax.set_xlim(-2.06, 2.62)
ax.set_ylim(-3.68, 3.74)
ax.set_xticks([-2, -1, 0, 1, 2])
ax.set_xticklabels(['\u22122', '\u22121', '0', '1', '2'])
ax.set_yticks([-2, 0, 2])
ax.set_yticklabels(['\u22122', '0', '2'])
style(ax)
ax.set_xlabel('Residualized ADHD Symptom Score', fontsize=LAB, va='center')
ax.set_ylabel('ADHD Polyneuro Score (PNRS_B, top 10%)', fontsize=LAB, va='center')
ax.xaxis.set_label_coords(0.5, -0.092)
ax.yaxis.set_label_coords(-0.112, 0.5)

# ---- C ----
c_light_bar = '#BCD4E9'
c_u = '#6890C3'
c_b = '#C8E3A2'
ax = add_ax(51, 227, 383, 667)
pos = np.arange(len(c_cats))
ax.bar(pos[0], minp_val, width=0.8, color=c_light_bar, zorder=1)
ax.errorbar(pos[0], minp_val, yerr=[[minp_val - minp_lo], [minp_hi - minp_val]], fmt='none',
            ecolor='black', elinewidth=0.8, capsize=5.2, capthick=0.8, zorder=3)
ux = pos[1:] - 0.22
bx = pos[1:] + 0.22
ax.bar(ux, u_val, width=0.4, color=c_u, zorder=1)
ax.bar(bx, pb_val, width=0.4, color=c_b, zorder=1)
ax.errorbar(ux, u_val, yerr=[np.array(u_val) - np.array(u_lo), np.array(u_hi) - np.array(u_val)],
            fmt='none', ecolor='black', elinewidth=0.8, capsize=2.7, capthick=0.8, zorder=3)
ax.errorbar(bx, pb_val, yerr=[np.array(pb_val) - np.array(pb_lo), np.array(pb_hi) - np.array(pb_val)],
            fmt='none', ecolor='black', elinewidth=0.8, capsize=2.7, capthick=0.8, zorder=3)
ax.set_xlim(-0.6, 4.6)
ax.set_ylim(-0.004, 0.0631)
ax.set_xticks(pos)
ax.set_xticklabels(c_cats)
ax.set_yticks([0, 0.02, 0.04, 0.06])
ax.set_yticklabels(['0.00', '0.02', '0.04', '0.06'])
style(ax)
ax.set_xlabel('Connection Significance Threshold', fontsize=LAB, va='center')
ax.set_ylabel('Variance Explained (Partial  R$^2$ )', fontsize=LAB, va='center')
ax.xaxis.set_label_coords(0.5, -0.087)
ax.yaxis.set_label_coords(-0.223, 0.5)

# ---- D ----
ax = add_ax(433, 628, 383, 669)
x, y = xy(d_ctrl)
ax.scatter(x, y, s=S, color=c_light, lw=0, zorder=1)
x, y = xy(d_adhd)
ax.scatter(x, y, s=S, color=c_dark, lw=0, zorder=2)
rib = '#222222'
ax.fill_between(d_ctrl_fit_x, d_ctrl_lo, d_ctrl_hi, color=rib, alpha=0.48, lw=0, zorder=3)
ax.fill_between(d_adhd_fit_x, d_adhd_lo, d_adhd_hi, color=rib, alpha=0.48, lw=0, zorder=3)
ax.plot(d_ctrl_fit_x, d_ctrl_fit_y, color=c_light, lw=1.2, zorder=4)
ax.plot(d_adhd_fit_x, d_adhd_fit_y, color=c_dark, lw=1.2, zorder=4)
ax.set_xlim(6.64, 19.2)
ax.set_ylim(-2.26, 3.63)
ax.set_xticks([7.5, 10.0, 12.5, 15.0, 17.5])
ax.set_xticklabels(['7.5', '10.0', '12.5', '15.0', '17.5'])
ax.set_yticks([-2, 0, 2])
ax.set_yticklabels(['\u22122', '0', '2'])
style(ax)
ax.set_xlabel('Age', fontsize=LAB, va='center')
ax.set_ylabel('Residualized ADHD Polyneuro Score', fontsize=LAB, va='center')
ax.xaxis.set_label_coords(0.5, -0.084)
ax.yaxis.set_label_coords(-0.145, 0.5)

# ---- legends ----
LEG = 7.8
def dot(c, ms=3.4):
    return Line2D([], [], ls='none', marker='o', ms=ms, mfc=c, mec='none')

fig.legend([dot(c_light), dot(c_dark)], ['Control', 'ADHD'], loc='center left',
           bbox_to_anchor=(312.8 / W, 1 - 167 / H), frameon=False, fontsize=LEG,
           handlelength=1.0, handletextpad=1.0, labelspacing=0.25, borderpad=0, borderaxespad=0)
fig.legend([dot(c_light, 2.8), dot(c_dark, 2.8), dot(c_green, 2.8)], ['Control', 'ADHD', 'Other'],
           loc='center left', bbox_to_anchor=(697 / W, 1 - 167.5 / H), frameon=False, fontsize=LEG,
           handlelength=1.0, handletextpad=1.0, labelspacing=0.25, borderpad=0, borderaxespad=0)
fig.legend([Patch(fc=c_light_bar, ec='none'), Patch(fc=c_u, ec='none'), Patch(fc=c_b, ec='none')],
           ['Min\u2212p Connection', 'PNRS_U', 'PNRS_B'], loc='center left',
           bbox_to_anchor=(248 / W, 1 - 528.7 / H), frameon=False, fontsize=LEG,
           handlelength=1.2, handleheight=1.2, handletextpad=0.65, labelspacing=0.1,
           borderpad=0, borderaxespad=0)
fig.legend([(Patch(fc=rib, alpha=0.48, ec='none'), Line2D([], [], color=c_light, lw=1.2, marker='o', ms=2.5, mec='none')),
            (Patch(fc=rib, alpha=0.48, ec='none'), Line2D([], [], color=c_dark, lw=1.2, marker='o', ms=2.5, mec='none'))],
           ['Control Persistent', 'ADHD Persistent'], loc='center left',
           bbox_to_anchor=(649 / W, 1 - 529.7 / H), frameon=False, fontsize=LEG,
           handlelength=1.3, handleheight=1.3, handletextpad=0.65, labelspacing=0.0,
           borderpad=0, borderaxespad=0)

# ---- panel letters ----
for lab, px, py in [('A', 37.5, 10), ('B', 423, 10), ('C', 39, 372), ('D', 423, 371.5)]:
    fig.text(px / W, 1 - py / H, lab, fontsize=12, fontweight='bold', ha='center', va='center')

fig.savefig('out.png', dpi=100)
